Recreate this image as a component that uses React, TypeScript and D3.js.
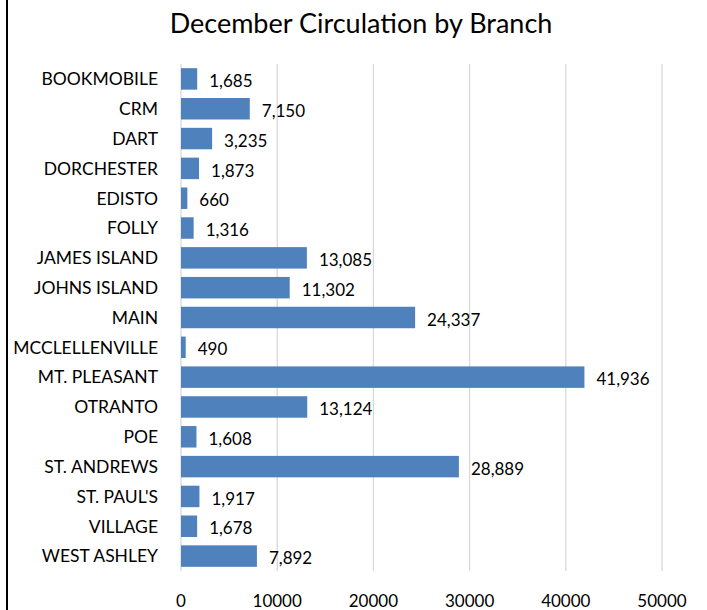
import React from "react";
import * as d3 from "d3";

const branches = [
  "BOOKMOBILE", "CRM", "DART", "DORCHESTER", "EDISTO", "FOLLY", "JAMES ISLAND",
  "JOHNS ISLAND", "MAIN", "MCCLELLENVILLE", "MT. PLEASANT", "OTRANTO", "POE",
  "ST. ANDREWS", "ST. PAUL'S", "VILLAGE", "WEST ASHLEY",
];
const circulation = [
  1685, 7150, 3235, 1873, 660, 1316, 13085, 11302, 24337, 490, 41936, 13124,
  1608, 28889, 1917, 1678, 7892,
];
const xTicks = [0, 10000, 20000, 30000, 40000, 50000];
const title = "December Circulation by Branch";

const W = 707;
const H = 610;
const FONT = "Lato, 'Open Sans', sans-serif";

export default function App() {
  const x = d3.scaleLinear().domain([0, 50000]).range([181, 662]);
  const y = d3.scaleBand<string>().domain(branches).range([64, 571]).paddingInner(0.28).paddingOuter(0.14);
  const fmt = d3.format(",");
  return (
    <svg width={W} height={H} style={{ position: "absolute", left: 0, top: 0, display: "block" }} fontFamily={FONT}>
      <rect x={0} y={0} width={W} height={H} fill="#fff" />
      <line x1={7} x2={7} y1={0} y2={H} stroke="#000" strokeWidth={2} />
      <text x={361} y={33} textAnchor="middle" fontSize={27} fill="#000">{title}</text>
      {xTicks.map((t) => (
        <g key={t}>
          <line x1={x(t)} x2={x(t)} y1={64} y2={571} stroke="#d9d9d9" strokeWidth={1.3} />
          <text x={x(t)} y={607} textAnchor="middle" fontSize={17} fill="#000">{t}</text>
        </g>
      ))}
      {branches.map((b, i) => {
        const yy = y(b)!;
        const v = circulation[i];
        return (
          <g key={b}>
            <rect x={x(0)} y={yy} width={x(v) - x(0)} height={y.bandwidth()} fill="#4f81bd" />
            <text x={158} y={yy + y.bandwidth() / 2} dy="0.36em" textAnchor="end" fontSize={17.5} fill="#000">{b}</text>
            <text x={x(v) + 12} y={yy + y.bandwidth() / 2 + 2} dy="0.36em" fontSize={17} fill="#000">{fmt(v)}</text>
          </g>
        );
      })}
    </svg>
  );
}
